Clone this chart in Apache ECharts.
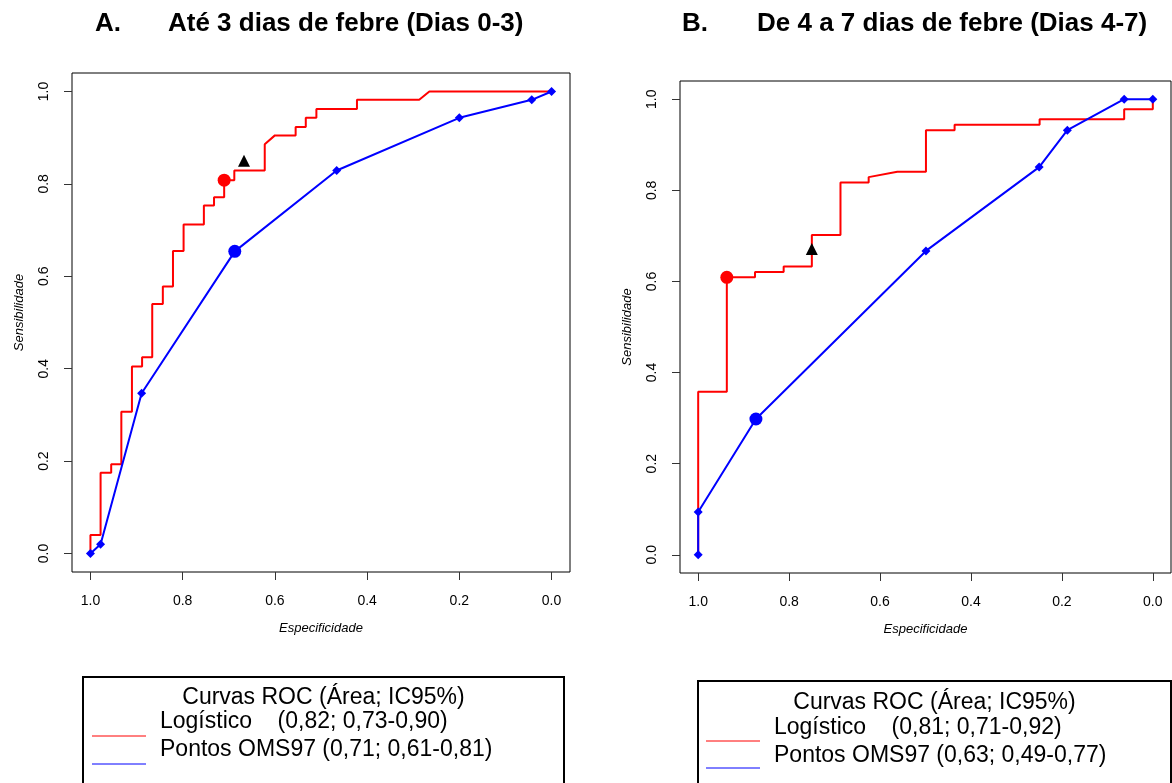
<!DOCTYPE html>
<html>
<head>
<meta charset="utf-8">
<script src="https://cdn.jsdelivr.net/npm/echarts@6/dist/echarts.min.js"></script>
<style>
html,body{margin:0;padding:0;background:#fff;}
#chart{width:1172px;height:783px;}
</style>
</head>
<body>
<div id="chart"></div>
<script>
// ---------- DATA ----------
var tickValues = [0, 0.2, 0.4, 0.6, 0.8, 1.0];

// Panel A (Dias 0-3)
var A_logit_spec = [1,1,0.978,0.978,0.955,0.955,0.933,0.933,0.910,0.910,0.888,0.888,0.866,0.866,0.843,0.843,0.821,0.821,0.798,0.798,0.754,0.754,0.732,0.732,0.710,0.710,0.688,0.688,0.622,0.622,0.600,0.555,0.555,0.533,0.533,0.510,0.510,0.422,0.422,0.287,0.265,0];
var A_logit_sens = [0,0.040,0.040,0.175,0.175,0.193,0.193,0.307,0.307,0.405,0.405,0.425,0.425,0.540,0.540,0.578,0.578,0.655,0.655,0.712,0.712,0.753,0.753,0.771,0.771,0.808,0.808,0.829,0.829,0.886,0.905,0.905,0.923,0.923,0.943,0.943,0.962,0.962,0.982,0.982,1.0,1.0];
var A_oms_spec = [1,0.978,0.889,0.687,0.466,0.200,0.043,0];
var A_oms_sens = [0,0.020,0.347,0.654,0.829,0.943,0.982,1];
var A_logit_cut = [0.710, 0.808];
var A_oms_cut = [0.687, 0.654];
var A_triangle = [0.667, 0.85];

// Panel B (Dias 4-7)
var B_logit_spec = [1,1,0.937,0.937,0.875,0.875,0.812,0.812,0.750,0.750,0.687,0.687,0.625,0.625,0.562,0.499,0.499,0.436,0.436,0.249,0.249,0.063,0.063,0,0];
var B_logit_sens = [0,0.358,0.358,0.609,0.609,0.621,0.621,0.633,0.633,0.702,0.702,0.817,0.817,0.829,0.841,0.841,0.932,0.932,0.944,0.944,0.956,0.956,0.978,0.978,1.0];
var B_oms_spec = [1,1,0.873,0.499,0.250,0.188,0.063,0];
var B_oms_sens = [0,0.094,0.298,0.667,0.851,0.932,1,1];
var B_logit_cut = [0.937, 0.609];
var B_oms_cut = [0.873, 0.298];
var B_triangle = [0.750, 0.671];

var titleA_label = 'A.';
var titleA_text = 'Até 3 dias de febre (Dias 0-3)';
var titleB_label = 'B.';
var titleB_text = 'De 4 a 7 dias de febre (Dias 4-7)';
var legendTitle = 'Curvas ROC (Área; IC95%)';
var legendA = ['Logístico    (0,82; 0,73-0,90)', 'Pontos OMS97 (0,71; 0,61-0,81)'];
var legendB = ['Logístico    (0,81; 0,71-0,92)', 'Pontos OMS97 (0,63; 0,49-0,77)'];

// ---------- BUILD ----------
function pairs(xs, ys){ return xs.map(function(x,i){ return [x, ys[i]]; }); }
var FONT = '"Liberation Sans", Arial, sans-serif';
var RED = '#ff0000', BLUE = '#0000ff';

function xAx(gi){
  return {
    gridIndex: gi, type: 'value', min: -0.04, max: 1.04, inverse: true,
    splitLine: {show:false},
    axisLine: {show:false, onZero:false},
    axisTick: {show:true, customValues: tickValues, length: 8, lineStyle:{color:'#333', width:1}},
    axisLabel: {customValues: tickValues, formatter: function(v){return v.toFixed(1);}, fontSize: 14, color:'#000', fontFamily: FONT, margin: 22},
    name: 'Especificidade', nameLocation: 'middle', nameGap: 50,
    nameTextStyle: {fontSize: 13, fontStyle:'italic', color:'#000', fontFamily: FONT}
  };
}
function yAx(gi, namePad){
  return {
    gridIndex: gi, type: 'value', min: -0.04, max: 1.04,
    splitLine: {show:false},
    axisLine: {show:false, onZero:false},
    axisTick: {show:true, customValues: tickValues, length: 8, lineStyle:{color:'#333', width:1}},
    axisLabel: {customValues: tickValues, formatter: function(v){return v.toFixed(1);}, fontSize: 14, color:'#000', fontFamily: FONT, margin: 21, rotate: 90},
    name: 'Sensibilidade', nameLocation: 'middle', nameGap: 46,
    nameTextStyle: {fontSize: 13, fontStyle:'italic', color:'#000', fontFamily: FONT, padding: namePad}
  };
}
function seriesFor(gi, lspec, lsens, ospec, osens, lcut, ocut, tri){
  return [
    {type:'line', xAxisIndex:gi, yAxisIndex:gi, data: pairs(lspec, lsens), showSymbol:false, symbol:'none',
     lineStyle:{color:RED, width:2}, itemStyle:{color:RED}, z:2, animation:false, silent:true},
    {type:'line', xAxisIndex:gi, yAxisIndex:gi, data: pairs(ospec, osens), symbol:'diamond', symbolSize:9, showSymbol:true,
     lineStyle:{color:BLUE, width:2}, itemStyle:{color:BLUE, opacity:1}, z:3, animation:false, silent:true},
    {type:'scatter', xAxisIndex:gi, yAxisIndex:gi, data:[lcut], symbol:'circle', symbolSize:13, itemStyle:{color:RED, opacity:1}, z:4, animation:false, silent:true},
    {type:'scatter', xAxisIndex:gi, yAxisIndex:gi, data:[ocut], symbol:'circle', symbolSize:13, itemStyle:{color:BLUE, opacity:1}, z:4, animation:false, silent:true},
    {type:'scatter', xAxisIndex:gi, yAxisIndex:gi, data:[tri], symbol:'triangle', symbolSize:12, itemStyle:{color:'#000', opacity:1}, z:4, animation:false, silent:true}
  ];
}

var titleStyle = {fontSize: 26, fontWeight: 'bold', color:'#000', fontFamily: FONT};

function legendGraphics(box, lines, lineKeys, texts){
  var g = [];
  var fs = 23;
  g.push({type:'rect', shape:{x:box[0], y:box[1], width:box[2], height:box[3]}, style:{fill:'#fff', stroke:'#000', lineWidth:2}, z:10});
  g.push({type:'text', x: box[0] + box[2]/2, y: texts[0], style:{text: legendTitle, fontSize:fs, fontFamily:FONT, fill:'#000', textAlign:'center', textVerticalAlign:'middle'}, z:11});
  g.push({type:'text', x: texts[3], y: texts[1], style:{text: lines[0], fontSize:fs, fontFamily:FONT, fill:'#000', textAlign:'left', textVerticalAlign:'middle'}, z:11});
  g.push({type:'text', x: texts[3], y: texts[2], style:{text: lines[1], fontSize:fs, fontFamily:FONT, fill:'#000', textAlign:'left', textVerticalAlign:'middle'}, z:11});
  g.push({type:'line', shape:{x1:lineKeys[0], y1:lineKeys[2], x2:lineKeys[1], y2:lineKeys[2]}, style:{stroke:RED, lineWidth:1}, z:11});
  g.push({type:'line', shape:{x1:lineKeys[0], y1:lineKeys[3], x2:lineKeys[1], y2:lineKeys[3]}, style:{stroke:BLUE, lineWidth:1}, z:11});
  return g;
}

var option = {
  backgroundColor: '#fff',
  animation: false,
  title: [
    {text: titleA_label, left: 95, top: 11, padding: 0, textStyle: titleStyle},
    {text: titleA_text, left: 168, top: 11, padding: 0, textStyle: titleStyle},
    {text: titleB_label, left: 682, top: 11, padding: 0, textStyle: titleStyle},
    {text: titleB_text, left: 757, top: 11, padding: 0, textStyle: titleStyle}
  ],
  grid: [
    {left: 72, top: 73, width: 498, height: 499, show:true, borderColor:'#000', borderWidth:1, backgroundColor:'transparent', containLabel:false},
    {left: 680, top: 81, width: 491, height: 492, show:true, borderColor:'#000', borderWidth:1, backgroundColor:'transparent', containLabel:false}
  ],
  xAxis: [xAx(0), xAx(1)],
  yAxis: [yAx(0, [0,0,0,20]), yAx(1, 0)],
  series: [].concat(
    seriesFor(0, A_logit_spec, A_logit_sens, A_oms_spec, A_oms_sens, A_logit_cut, A_oms_cut, A_triangle),
    seriesFor(1, B_logit_spec, B_logit_sens, B_oms_spec, B_oms_sens, B_logit_cut, B_oms_cut, B_triangle)
  ),
  graphic: [].concat(
    legendGraphics([83, 677, 481, 110], legendA, [92, 146, 736, 764], [698, 722, 750, 160]),
    legendGraphics([698, 681, 473, 110], legendB, [706, 760, 741, 768], [703, 728, 756, 774])
  )
};

var chart = echarts.init(document.getElementById('chart'), null, {renderer:'canvas'});
chart.setOption(option);
</script>
</body>
</html>
